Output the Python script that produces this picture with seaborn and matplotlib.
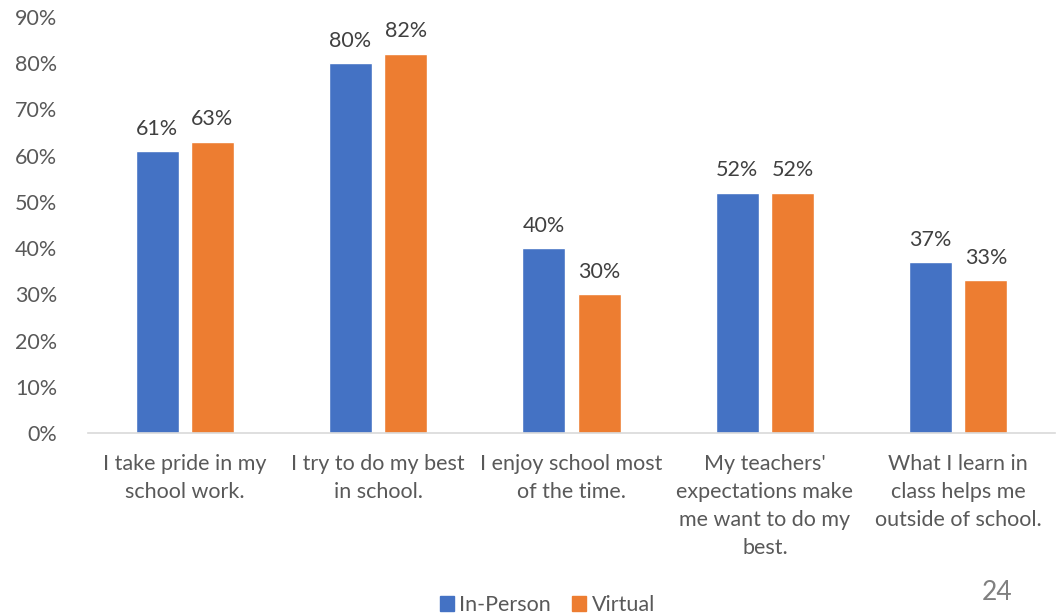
import matplotlib
matplotlib.use("Agg")
import matplotlib.pyplot as plt
import matplotlib.patches as mpatches
import seaborn as sns
import pandas as pd

categories = [
    "I take pride in my\nschool work.",
    "I try to do my best\nin school.",
    "I enjoy school most\nof the time.",
    "My teachers'\nexpectations make\nme want to do my\nbest.",
    "What I learn in\nclass helps me\noutside of school.",
]
in_person = [61, 80, 40, 52, 37]
virtual = [63, 82, 30, 52, 33]
series = ["In-Person", "Virtual"]
colors = ["#4472C4", "#ED7D31"]
yticks = [0, 10, 20, 30, 40, 50, 60, 70, 80, 90]

df = pd.DataFrame({
    "category": categories * 2,
    "group": [series[0]] * len(categories) + [series[1]] * len(categories),
    "value": in_person + virtual,
})

sns.set_theme(style="white")
plt.rcParams["font.family"] = ["Lato", "DejaVu Sans"]
FS = 15.5

fig = plt.figure(figsize=(10.63, 6.16), dpi=100)
ax = fig.add_axes([0.0828, 0.297, 0.9097, 0.6754])

sns.barplot(data=df, x="category", y="value", hue="group", palette=colors,
            width=0.57, gap=0.22, ax=ax, legend=False, saturation=1)

for cont in ax.containers:
    ax.bar_label(cont, labels=[f"{v:.0f}%" for v in cont.datavalues],
                 padding=9, fontsize=FS, color="#404040")

ax.set_ylim(0, 90)
ax.set_yticks(yticks)
ax.set_yticklabels([f"{t}%" for t in yticks], fontsize=FS, color="#595959")
ax.tick_params(axis="x", labelsize=FS, labelcolor="#595959", length=0, pad=15)
ax.tick_params(axis="y", length=0, pad=22)
for lbl in ax.get_xticklabels():
    lbl.set_linespacing(1.5)
ax.set_xlim(-0.5, 4.5)
ax.set_xlabel("")
ax.set_ylabel("")
for s in ["top", "right", "left"]:
    ax.spines[s].set_visible(False)
ax.spines["bottom"].set_color("#D9D9D9")
ax.spines["bottom"].set_linewidth(1.2)

handles = [mpatches.Patch(color=c, label=s) for c, s in zip(colors, series)]
fig.legend(handles=handles, loc="lower center", bbox_to_anchor=(0.515, -0.03),
           ncol=2, frameon=False, fontsize=FS, handlelength=0.65,
           handleheight=0.65, handletextpad=0.25, columnspacing=1.0,
           labelcolor="#595959")

fig.text(0.938, 0.038, "24", fontsize=19, color="#808080", ha="center", va="center")

fig.savefig("out.png", dpi=100)
